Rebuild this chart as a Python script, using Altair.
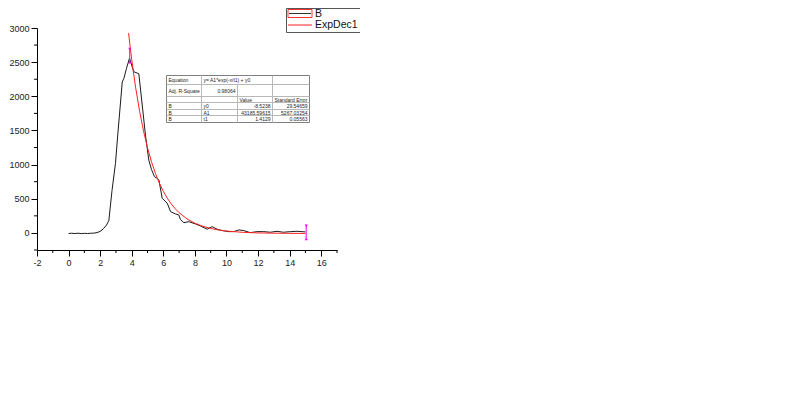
import altair as alt
import pandas as pd

# ---------------- data ----------------
b_x = [0, 0.2, 0.4, 0.6, 0.8, 1.0, 1.2, 1.4, 1.6, 1.8, 2.0, 2.2, 2.4, 2.55, 2.75,
       2.97, 3.12, 3.4, 3.5, 3.67, 3.86, 4.03, 4.13, 4.45, 4.87, 5.08, 5.25, 5.44,
       5.6, 5.72, 5.93, 6.25, 6.46, 6.77, 6.98, 7.09, 7.3, 7.61, 8.04, 8.35, 8.78,
       9.09, 9.41, 9.73, 10.15, 10.46, 10.78, 11.1, 11.5, 11.94, 12.36, 12.78, 13.2,
       13.6, 14.05, 14.47, 15.0]
b_y = [-8, -5, -9, -4, -10, -6, -9, -5, -3, 5, 22, 60, 115, 180, 620,
       1020, 1450, 2210, 2260, 2410, 2560, 2430, 2360, 2330, 1430, 1067, 930, 823,
       800, 775, 507, 434, 311, 278, 263, 195, 150, 165, 131, 102, 54,
       92, 54, 34, 19, 19, 44, 34, 4, 19, 19, 10, 24,
       10, 19, 24, 15]

fit_x = [3.8, 3.9, 4.0, 4.1, 4.25, 4.5, 4.75, 5.0, 5.25, 5.5, 5.75, 6.0, 6.25, 6.5,
         6.75, 7.0, 7.5, 8.0, 8.5, 9.0, 9.5, 10, 11, 12, 13, 14, 15]
fit_y = [2925, 2723, 2538, 2364, 2124, 1778, 1489, 1246, 1042, 872, 729, 609, 509, 425,
         355, 296, 205, 142, 97, 65, 43, 28, 9, 0, -4, -6, -7.5]

marker_x = [3.87, 15.05]
marker_top = [2690, 102]
marker_bottom = [2500, -88]

x_major = [-2, 0, 2, 4, 6, 8, 10, 12, 14, 16]
x_minor = [-1, 1, 3, 5, 7, 9, 11, 13, 15, 17]
y_major = [0, 500, 1000, 1500, 2000, 2500, 3000]
y_minor = [-250, 250, 750, 1250, 1750, 2250, 2750]

legend_labels = ["B", "ExpDec1"]

table_equation = ["Equation", "y= A1*exp(-x/t1) + y0"]
table_adj = ["Adj. R-Square", "0.98064"]
table_header = ["Value", "Standard Error"]
table_series = ["B", "B", "B"]
table_params = ["y0", "A1", "t1"]
table_values = ["-8.5238", "43185.59615", "1.4129"]
table_errors = ["29.54659", "5267.03254", "0.05563"]

# ---------------- layout / style ----------------
W, H = 300, 222
FONT = "Liberation Sans"
xs = alt.Scale(domain=[-2, 17], nice=False, zero=False)
ys = alt.Scale(domain=[-250, 3000], nice=False, zero=False)
x_axis = alt.Axis(values=x_major, title=None, tickSize=6, labelFontSize=9,
                  labelPadding=2, labelFlush=False, labelOverlap=False, grid=False,
                  domainColor="black", tickColor="black", labelColor="#222",
                  labelFont=FONT, labelExpr="'' + datum.value")
y_axis = alt.Axis(values=y_major, title=None, tickSize=6, labelFontSize=9,
                  labelPadding=2, labelFlush=False, labelOverlap=False, grid=False,
                  domainColor="black", tickColor="black", labelColor="#222",
                  labelFont=FONT, labelExpr="'' + datum.value")

def X(f="x"):
    return alt.X(f"{f}:Q", scale=xs, axis=x_axis)

def Y(f="y"):
    return alt.Y(f"{f}:Q", scale=ys, axis=y_axis)

df_b = pd.DataFrame({"x": b_x, "y": b_y})
df_fit = pd.DataFrame({"x": fit_x, "y": fit_y})
df_mark = pd.DataFrame({"x": marker_x, "y": marker_top, "y2": marker_bottom})

black = alt.Chart(df_b).mark_line(color="#1a1a1a", strokeWidth=1).encode(x=X(), y=Y(), order="x:Q")
red = alt.Chart(df_fit).mark_line(color="#ff2020", strokeWidth=1).encode(x=X(), y=Y(), order="x:Q")

xminor = alt.Chart(pd.DataFrame({"x": x_minor})).mark_rule(color="black").encode(
    x=X(), y=alt.value(H), y2=alt.value(H + 3))
yminor = alt.Chart(pd.DataFrame({"y": y_minor})).mark_rule(color="black").encode(
    y=Y(), x=alt.value(0), x2=alt.value(-3))

mk_rule = alt.Chart(df_mark).mark_rule(color="#ff00ff", strokeWidth=1).encode(
    x=X(), y=Y(), y2="y2:Q")
mk_top = alt.Chart(df_mark).mark_point(shape="triangle-down", filled=True, color="#ff00ff",
                                       size=10, opacity=1).encode(x=X(), y=Y())
mk_bot = alt.Chart(df_mark).mark_point(shape="triangle-up", filled=True, color="#ff00ff",
                                       size=10, opacity=1).encode(x=X(), y=Y("y2"))

layers = [black, red, xminor, yminor, mk_rule, mk_top, mk_bot]

def hline(x1, x2, y, color, w=1):
    return alt.Chart().mark_rule(color=color, strokeWidth=w).encode(
        x=alt.value(x1), x2=alt.value(x2), y=alt.value(y))

def vline(x, y1, y2, color, w=1):
    return alt.Chart().mark_rule(color=color, strokeWidth=w).encode(
        x=alt.value(x), y=alt.value(y1), y2=alt.value(y2))

def txt(s, x, y, align="left", size=5, color="#222"):
    return alt.Chart().mark_text(text=s, align=align, baseline="middle", fontSize=size,
                                 font=FONT, color=color).encode(x=alt.value(x), y=alt.value(y))

# ---------------- fit table ----------------
cols = [129.5, 164.5, 200.5, 235.5, 272.5]
rows = [47.5, 56.5, 68.5, 74.5, 81.5, 87.5, 94.5]
layers.append(alt.Chart().mark_rect(fill="white", stroke="#808080", strokeWidth=1).encode(
    x=alt.value(cols[0]), x2=alt.value(cols[-1]), y=alt.value(rows[0]), y2=alt.value(rows[-1])))
for r in rows[1:-1]:
    layers.append(hline(cols[0], cols[-1], r, "#b8b8b8"))
layers.append(vline(cols[1], rows[0], rows[-1], "#b8b8b8"))
layers.append(vline(cols[2], rows[1], rows[-1], "#b8b8b8"))
layers.append(vline(cols[3], rows[0], rows[-1], "#b8b8b8"))

def mid(i):
    return (rows[i] + rows[i + 1]) / 2

layers.append(txt(table_equation[0], cols[0] + 2, mid(0)))
layers.append(txt(table_equation[1], cols[1] + 2, mid(0)))
layers.append(txt(table_adj[0], cols[0] + 2, mid(1)))
layers.append(txt(table_adj[1], cols[2] - 2, mid(1), align="right"))
layers.append(txt(table_header[0], cols[2] + 2, mid(2)))
layers.append(txt(table_header[1], cols[3] + 2, mid(2)))
for i in range(3):
    layers.append(txt(table_series[i], cols[0] + 2, mid(3 + i)))
    layers.append(txt(table_params[i], cols[1] + 2, mid(3 + i)))
    layers.append(txt(table_values[i], cols[3] - 2, mid(3 + i), align="right"))
    layers.append(txt(table_errors[i], cols[4] - 2, mid(3 + i), align="right"))

# ---------------- legend ----------------
lg_l, lg_r, lg_t, lg_b = 249.5, 323, -19.5, 4.5
layers.append(alt.Chart().mark_rect(fill="white").encode(
    x=alt.value(lg_l), x2=alt.value(lg_r), y=alt.value(lg_t), y2=alt.value(lg_b)))
layers.append(hline(lg_l, lg_r, lg_t, "#555"))
layers.append(hline(lg_l, lg_r, lg_b, "#555"))
layers.append(vline(lg_l, lg_t, lg_b, "#555"))
layers.append(alt.Chart().mark_rect(fill="none", stroke="#ff3030", strokeWidth=1).encode(
    x=alt.value(251), x2=alt.value(275), y=alt.value(-18.5), y2=alt.value(-10.5)))
layers.append(hline(252, 274, -14.5, "#333"))
layers.append(hline(251, 275, -3, "#ff2020"))
layers.append(txt(legend_labels[0], 278, -14.5, size=10.5, color="#111"))
layers.append(txt(legend_labels[1], 278, -3, size=10.5, color="#111"))

chart = alt.layer(*layers).properties(
    width=W, height=H,
    autosize=alt.AutoSizeParams(type="none"),
    padding={"left": 29, "top": 20, "right": 60, "bottom": 40},
).configure(background="white", view=alt.ViewConfig(stroke=None))

chart.save("out.html", embed_options={"renderer": "svg", "actions": False})
